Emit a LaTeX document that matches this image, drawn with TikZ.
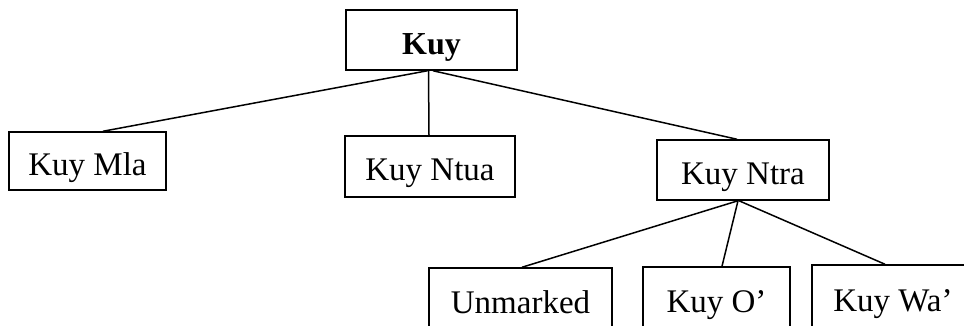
\documentclass[tikz,border=0pt]{standalone}
\usepackage{fontspec}
\setmainfont{Liberation Serif}
\begin{document}
\begin{tikzpicture}[x=1pt,y=-1pt,
  box/.style={draw=black, line width=1.5pt, inner sep=0pt, text height=30pt, text depth=2pt,
    font=\fontsize{33}{38}\selectfont},
  link/.style={draw=black, line width=1.5pt}]
\useasboundingbox (0,0) rectangle (964,325);
\clip (0,0) rectangle (964,325);
\fill[white] (0,0) rectangle (964,325);
\node[box, minimum width=171pt, minimum height=60pt, font=\fontsize{32}{38}\selectfont\bfseries] (kuy) at (431.5,40) {Kuy};
\node[box, minimum width=157pt, minimum height=58pt] (mla) at (87.5,161) {Kuy Mla};
\node[box, minimum width=170pt, minimum height=61pt] (ntua) at (430,166.5) {Kuy Ntua};
\node[box, minimum width=172pt, minimum height=60pt] (ntra) at (743,170) {Kuy Ntra};
\node[box, minimum width=183pt, minimum height=62pt] (unm) at (520.5,299) {Unmarked};
\node[box, minimum width=147pt, minimum height=62pt] (kuyo) at (716.5,298) {Kuy O’};
\node[box, minimum width=162pt, minimum height=64pt] (kuywa) at (893,297) {Kuy Wa’};
\draw[link] ([xshift=-4pt]kuy.south) -- ([xshift=15.5pt]mla.north);
\draw[link] ([xshift=-3pt]kuy.south) -- ([xshift=-1pt]ntua.north);
\draw[link] ([xshift=1.5pt]kuy.south) -- ([xshift=-6pt]ntra.north);
\draw[link] ([xshift=-5pt]ntra.south) -- ([xshift=1.5pt]unm.north);
\draw[link] ([xshift=-5pt]ntra.south) -- ([xshift=5.5pt]kuyo.north);
\draw[link] ([xshift=-4pt]ntra.south) -- ([xshift=-8pt]kuywa.north);
\end{tikzpicture}
\end{document}
